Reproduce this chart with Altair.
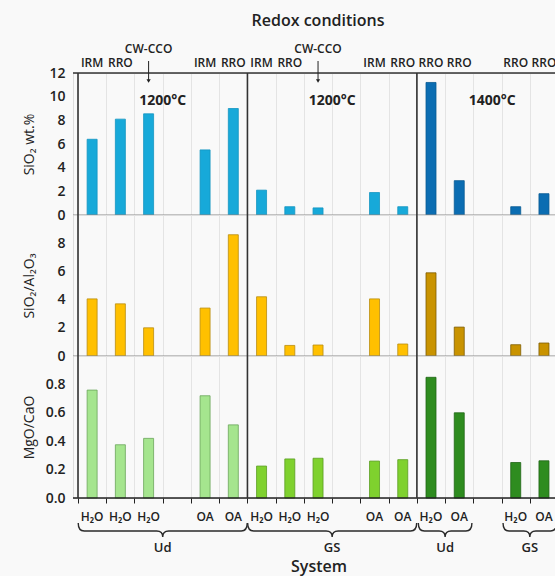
import altair as alt
import pandas as pd

# ---------------- data ----------------
col_keys = ["c0", "c1", "c2"]
col_slots = [[0, 1, 2, 4, 5], [0, 1, 2, 4, 5], [0, 1, 3, 4]]
redox = [["IRM", "RRO", "CW-CCO", "IRM", "RRO"],
         ["IRM", "RRO", "CW-CCO", "IRM", "RRO"],
         ["RRO", "RRO", "RRO", "RRO"]]
system = [["H₂O", "H₂O", "H₂O", "OA", "OA"],
          ["H₂O", "H₂O", "H₂O", "OA", "OA"],
          ["H₂O", "OA", "H₂O", "OA"]]
sio2 = [[6.4, 8.1, 8.55, 5.5, 9.0], [2.1, 0.7, 0.6, 1.9, 0.7], [11.2, 2.9, 0.7, 1.8]]
sio2_al2o3 = [[4.05, 3.7, 2.0, 3.4, 8.6], [4.2, 0.75, 0.78, 4.05, 0.85], [5.9, 2.05, 0.8, 0.92]]
mgo_cao = [[0.76, 0.375, 0.42, 0.72, 0.515], [0.225, 0.275, 0.28, 0.26, 0.27], [0.85, 0.6, 0.25, 0.262]]
temps = ["1200°C", "1200°C", "1400°C"]
temp_pos = [3.0, 9.0, 14.67]
group_labels = ["Ud", "GS", "Ud", "GS"]
group_col = [0, 1, 2, 2]
group_first = [0, 0, 0, 3]
group_last = [5, 5, 1, 4]

SLOTS_PER_COL = 6
SLOT_PX = 346 / 12
W = 486
XMAX = W / SLOT_PX
H1, H2, H3 = 142, 141, 142

rows = []
for c in range(3):
    for i, s in enumerate(col_slots[c]):
        rows.append(dict(x=c * SLOTS_PER_COL + s + 0.5, col=col_keys[c],
                         redox=redox[c][i], system=system[c][i],
                         sio2=sio2[c][i], ratio=sio2_al2o3[c][i], mgo=mgo_cao[c][i]))
df = pd.DataFrame(rows)


def brace_path(w, up=8, down=6, r=6):
    h = w / 2
    return (f"M{-h:.1f},{-up} Q{-h:.1f},0 {-h + r:.1f},0 L{-r},0 Q0,0 0,{down} "
            f"Q0,0 {r},0 L{h - r:.1f},0 Q{h:.1f},0 {h:.1f},{-up}")


brace_rows = []
for lab, c, f, l in zip(group_labels, group_col, group_first, group_last):
    x0 = c * SLOTS_PER_COL + f
    x1 = c * SLOTS_PER_COL + l + 1
    brace_rows.append(dict(x=(x0 + x1) / 2, label=lab,
                           path=brace_path((x1 - x0) * SLOT_PX - 4)))
braces = pd.DataFrame(brace_rows)
temp_df = pd.DataFrame({"x": temp_pos, "t": temps})
borders = pd.DataFrame({"x": [0, 6, 12]})
zero = pd.DataFrame({"y": [0]})

DARK = "#222222"
xscale = alt.Scale(domain=[0, XMAX], nice=False, zero=False)


def xenc(bottom=False):
    return alt.X("x:Q", scale=xscale,
                 axis=alt.Axis(values=list(range(0, 17)), grid=True, gridColor="#e4e4e4",
                               gridWidth=1, labels=False, ticks=bottom, tickSize=5,
                               tickColor=DARK, domain=False, title=None))


def make_row(key, field, title, domain, values, fmt, fills, strokes, height, zero_color, bottom=False):
    keys = [f"{key}{k}" for k in col_keys]
    yaxis = alt.Axis(values=values, format=fmt, title=title, ticks=False, domain=False, grid=False,
                     labelFontSize=14, labelFontWeight=600, labelColor=DARK, labelPadding=8,
                     labelOverlap=False, labelFlush=False, labelBound=False,
                     titleFontSize=14, titleFontWeight="normal", titleColor=DARK,
                     titleX=-44, titleY=height / 2, titleAngle=-90, titleAlign="center",
                     titleBaseline="middle")
    yscale = alt.Scale(domain=domain, nice=False, zero=True)
    bars = alt.Chart(df).transform_calculate(ck=f"'{key}' + datum.col").mark_bar(
        size=10, strokeWidth=0.8).encode(
        x=xenc(bottom),
        y=alt.Y(f"{field}:Q", scale=yscale, axis=yaxis),
        color=alt.Color("ck:N", scale=alt.Scale(domain=keys, range=fills), legend=None),
        stroke=alt.Stroke("ck:N", scale=alt.Scale(domain=keys, range=strokes), legend=None),
    )
    zline = alt.Chart(zero).mark_rule(color=zero_color, strokeWidth=1.5 if bottom else 1.2).encode(
        y=alt.Y("y:Q", scale=yscale, axis=yaxis))
    border = alt.Chart(borders).mark_rule(color="#333333", strokeWidth=1.6).encode(
        x=xenc(bottom))
    return [bars, zline, border]


r1 = make_row("a", "sio2", "SiO₂ wt.%", [0, 12], list(range(0, 13, 2)), "d",
              ["#17a9d9", "#17a9d9", "#0b6db2"], ["#1496c2", "#1496c2", "#095a93"],
              H1, "#8c8c8c")
r2 = make_row("b", "ratio", "SiO₂/Al₂O₃", [0, 10], [0, 2, 4, 6, 8], "d",
              ["#ffc000", "#ffc000", "#c99300"], ["#b98d10", "#b98d10", "#7d5c00"],
              H2, "#8c8c8c")
r3 = make_row("g", "mgo", "MgO/CaO", [0, 1.0], [0, 0.2, 0.4, 0.6, 0.8], ".1f",
              ["#a5e58e", "#7fd12e", "#2e8c1f"], ["#6ba65a", "#5b9d22", "#1f6415"],
              H3, DARK, bottom=True)

txt = dict(align="center", baseline="middle", color=DARK)
xt = xenc(False)
xb = xenc(True)

# top annotations
top_line = alt.Chart(zero).mark_rule(color="#333333", strokeWidth=1.6).encode(y=alt.value(0))
redox_lbl = alt.Chart(df).transform_filter("datum.redox != 'CW-CCO'").mark_text(
    fontSize=12, fontWeight=600, **txt).encode(x=xt, y=alt.value(-10), text="redox:N")
cw_lbl = alt.Chart(df).transform_filter("datum.redox == 'CW-CCO'").mark_text(
    fontSize=12, fontWeight=600, **txt).encode(x=xt, y=alt.value(-24), text="redox:N")
cw_arrow = alt.Chart(df).transform_filter("datum.redox == 'CW-CCO'").mark_rule(
    color=DARK, strokeWidth=1).encode(x=xt, y=alt.value(-12), y2=alt.value(8))
cw_head = alt.Chart(df).transform_filter("datum.redox == 'CW-CCO'").mark_point(
    shape="triangle-down", filled=True, size=18, color=DARK, opacity=1).encode(
    x=xt, y=alt.value(8))
temp_lbl = alt.Chart(temp_df).mark_text(fontSize=14, fontWeight="bold", **txt).encode(
    x=xt, y=alt.value(28), text="t:N")
redox_title = alt.Chart(zero).mark_text(fontSize=16, fontWeight=600, **txt).encode(
    x=alt.value(245), y=alt.value(-52), text=alt.value("Redox conditions"))

# bottom annotations
sys_lbl = alt.Chart(df).mark_text(fontSize=12, fontWeight=600, **txt).encode(
    x=xb, y=alt.value(H3 + 19), text="system:N")
brace_mk = alt.Chart(braces).mark_point(size=4, filled=False, color="#2a2a2a", strokeWidth=1.4,
                                        opacity=1).encode(
    x=xb, y=alt.value(H3 + 33),
    shape=alt.Shape("path:N", scale=None, legend=None))
grp_lbl = alt.Chart(braces).mark_text(fontSize=13, fontWeight=600, **txt).encode(
    x=xb, y=alt.value(H3 + 50), text="label:N")
sys_title = alt.Chart(zero).mark_text(fontSize=16, fontWeight=600, **txt).encode(
    x=alt.value(246), y=alt.value(H3 + 69), text=alt.value("System"))

c1 = alt.layer(*r1, top_line, redox_lbl, cw_lbl, cw_arrow, cw_head, temp_lbl, redox_title).properties(
    width=W, height=H1)
c2 = alt.layer(*r2).properties(width=W, height=H2)
c3 = alt.layer(*r3, sys_lbl, brace_mk, grp_lbl, sys_title).properties(width=W, height=H3)

chart = alt.vconcat(c1, c2, c3, spacing=0, bounds="flush").resolve_scale(
    y="independent", color="independent", stroke="independent").configure_view(
    stroke=None).configure(background="#f9f9f9", font="Open Sans",
                           padding={"left": 21, "top": 12, "right": -6, "bottom": 2})

chart.save("out.html", embed_options={"renderer": "svg", "actions": False})
